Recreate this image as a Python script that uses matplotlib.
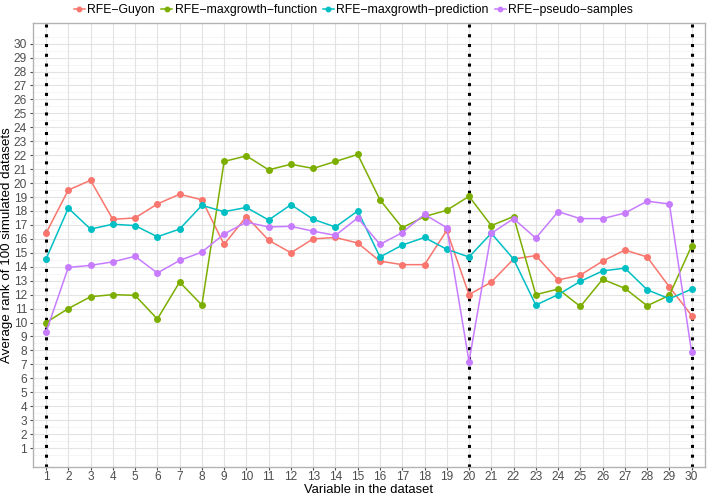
import matplotlib
matplotlib.use('Agg')
import matplotlib.pyplot as plt
import numpy as np

plt.rcParams['font.family'] = ['Liberation Sans', 'DejaVu Sans']

variables = list(range(1, 31))

guyon = [16.4, 19.5, 20.2, 17.4, 17.5, 18.5, 19.2, 18.8, 15.6, 17.6,
         15.9, 15.0, 16.0, 16.1, 15.7, 14.4, 14.15, 14.15, 16.6, 12.0,
         12.9, 14.55, 14.8, 13.05, 13.4, 14.4, 15.2, 14.7, 12.55, 10.5]
mg_function = [10.0, 11.0, 11.85, 12.0, 11.95, 10.25, 12.9, 11.25, 21.55, 21.95,
               20.95, 21.35, 21.05, 21.55, 22.05, 18.8, 16.8, 17.6, 18.05, 19.05,
               16.95, 17.6, 12.0, 12.4, 11.15, 13.1, 12.45, 11.2, 11.95, 15.5]
mg_prediction = [14.55, 18.2, 16.7, 17.05, 16.95, 16.15, 16.7, 18.4, 17.95, 18.25,
                 17.35, 18.45, 17.4, 16.85, 18.0, 14.7, 15.55, 16.1, 15.25, 14.7,
                 16.4, 14.55, 11.25, 12.0, 12.95, 13.7, 13.9, 12.35, 11.7, 12.4]
pseudo = [9.3, 13.95, 14.1, 14.35, 14.75, 13.55, 14.45, 15.05, 16.35, 17.2,
          16.85, 16.9, 16.55, 16.25, 17.5, 15.6, 16.45, 17.75, 16.8, 7.2,
          16.4, 17.45, 16.05, 17.95, 17.45, 17.45, 17.85, 18.7, 18.5, 7.85]

series = [
    ('RFE\u2212Guyon', guyon, '#F8766D'),
    ('RFE\u2212maxgrowth\u2212function', mg_function, '#7CAE00'),
    ('RFE\u2212maxgrowth\u2212prediction', mg_prediction, '#00BFC4'),
    ('RFE\u2212pseudo\u2212samples', pseudo, '#C77CFF'),
]
vlines = [1, 20, 30]

fig = plt.figure(figsize=(7.07, 4.98), dpi=100)
ax = fig.add_axes([0.0462, 0.062, 0.9510, 0.8924])

# grid like ggplot theme_light
for y in np.arange(0.5, 31.5, 1.0):
    ax.axhline(y, color='#F2F2F2', lw=0.5, zorder=0)
for y in range(1, 31):
    ax.axhline(y, color='#E3E3E3', lw=0.8, zorder=0)
for x in variables:
    ax.axvline(x, color='#E3E3E3', lw=0.8, zorder=0)

for xv in vlines:
    ax.axvline(xv, color='black', lw=2.2, linestyle=(0, (1, 2.2)), zorder=1)

for name, vals, col in series:
    ax.plot(variables, vals, color=col, lw=1.1, marker='o', ms=4, label=name, zorder=3)

ax.set_xlim(0.4, 30.6)
ax.set_ylim(-0.37, 31.5)
ax.set_xticks(variables)
ax.set_yticks(range(1, 31))
ax.tick_params(axis='both', colors='#4D4D4D', labelsize=8.6, length=2.5, width=0.8,
               pad=1.5)
ax.tick_params(axis='x', pad=0.5)
for s in ax.spines.values():
    s.set_color('#B3B3B3')
    s.set_linewidth(1.0)
ax.set_xlabel('Variable in the dataset', fontsize=9.4)
ax.set_ylabel('Average rank of 100 simulated datasets', fontsize=9.6)
ax.xaxis.set_label_coords(0.5, -0.038)
ax.yaxis.set_label_coords(-0.029, 0.5)

fig.legend(loc='upper center', bbox_to_anchor=(0.5, 1.014), ncol=4, frameon=False,
           fontsize=8.8, handlelength=0.9, handletextpad=0.2, columnspacing=0.5,
           markerscale=0.8)

fig.savefig('out.png', dpi=100)
